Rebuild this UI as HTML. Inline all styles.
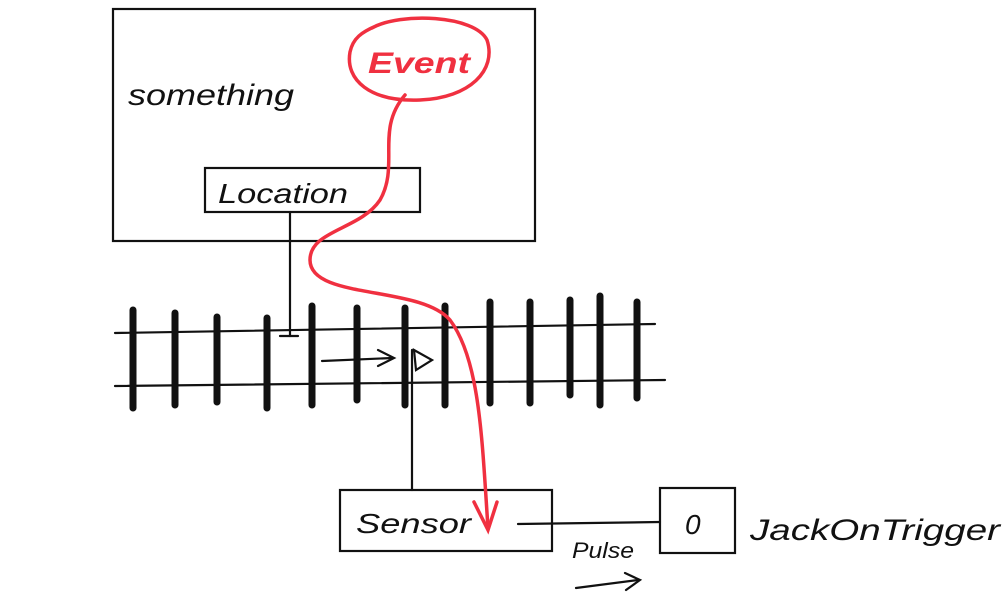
<!DOCTYPE html>
<html><head><meta charset="utf-8"><style>
html,body{margin:0;padding:0;background:#fff;width:1004px;height:600px;overflow:hidden}
svg{display:block}
text{font-family:"Liberation Sans",sans-serif;font-style:italic}
</style></head><body>
<svg width="1004" height="600" viewBox="0 0 1004 600" xmlns="http://www.w3.org/2000/svg">
<g fill="none" stroke="#111" stroke-width="2.2" stroke-linecap="round">
<rect x="113" y="9" width="422" height="232"/>
<rect x="205" y="168" width="215" height="44"/>
<line x1="290" y1="212" x2="290" y2="336"/>
<line x1="280" y1="336" x2="298" y2="336"/>
<line x1="115" y1="333" x2="655" y2="324"/>
<line x1="115" y1="386" x2="665" y2="380"/>
<line x1="322" y1="361" x2="392" y2="358"/>
<polyline points="378,350 394,358 378,366"/>
<line x1="412" y1="350" x2="412" y2="490"/>
<polygon points="414,350 432,360 416,370"/>
<rect x="340" y="490" width="212" height="61"/>
<line x1="518" y1="524" x2="660" y2="522"/>
<rect x="660" y="488" width="75" height="65"/>
<line x1="576" y1="588" x2="638" y2="580"/>
<polyline points="625,573 640,580 626,590"/>
</g>
<g stroke="#111" stroke-width="7" stroke-linecap="round">
<line x1="133" y1="310" x2="133" y2="408"/>
<line x1="175" y1="313" x2="175" y2="405"/>
<line x1="217" y1="317" x2="217" y2="402"/>
<line x1="267" y1="318" x2="267" y2="408"/>
<line x1="312" y1="306" x2="312" y2="405"/>
<line x1="357" y1="308" x2="357" y2="400"/>
<line x1="405" y1="308" x2="405" y2="405"/>
<line x1="445" y1="306" x2="445" y2="405"/>
<line x1="490" y1="302" x2="490" y2="403"/>
<line x1="530" y1="302" x2="530" y2="403"/>
<line x1="570" y1="300" x2="570" y2="395"/>
<line x1="600" y1="296" x2="600" y2="405"/>
<line x1="637" y1="302" x2="637" y2="398"/>
</g>
<g fill="none" stroke="#f03040" stroke-width="3.5" stroke-linecap="round">
<path d="M372,28 C400,12 475,15 487,40 C497,70 470,98 420,100 C370,102 345,80 350,52 C353,38 362,32 376,26"/>
<path d="M405,95 C375,130 400,165 380,200 C360,230 310,230 310,260 C310,300 420,285 450,320 C480,360 482,440 488,528"/>
<polyline points="474,502 488,530 497,502"/>
</g>
<text x="368" y="73" fill="#f03040" font-size="30" font-weight="bold" textLength="102" lengthAdjust="spacingAndGlyphs">Event</text>
<text x="128" y="105" fill="#111" font-size="30" textLength="166" lengthAdjust="spacingAndGlyphs">something</text>
<text x="218" y="203" fill="#111" font-size="28" textLength="130" lengthAdjust="spacingAndGlyphs">Location</text>
<text x="356" y="533" fill="#111" font-size="28" textLength="115" lengthAdjust="spacingAndGlyphs">Sensor</text>
<text x="685" y="534" fill="#111" font-size="28">0</text>
<text x="750" y="540" fill="#111" font-size="30" textLength="250" lengthAdjust="spacingAndGlyphs">JackOnTrigger</text>
<text x="572" y="558" fill="#111" font-size="22" textLength="62" lengthAdjust="spacingAndGlyphs">Pulse</text>
</svg>
</body></html>
